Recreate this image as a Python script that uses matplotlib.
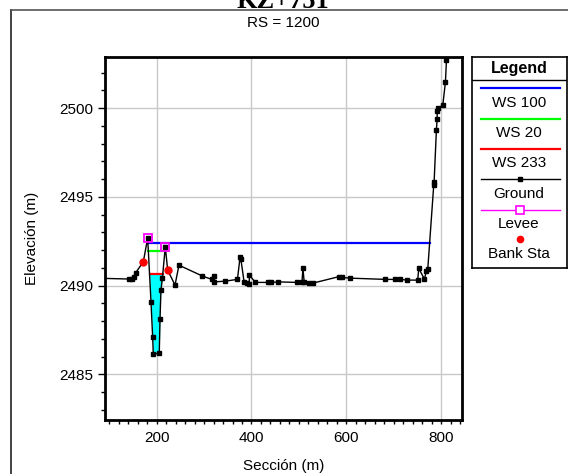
import numpy as np
import matplotlib
matplotlib.use("Agg")
import matplotlib.pyplot as plt
from matplotlib.lines import Line2D
from matplotlib.ticker import MultipleLocator, FormatStrFormatter

plt.rcParams['font.family'] = ['Liberation Sans', 'DejaVu Sans']

# Ground profile: station (m) and elevation (m)
ground_x = [70.0, 142.1, 148.4, 152.7, 155.6, 171.8, 181.0, 188.0, 191.5, 192.9,
            205.5, 207.0, 209.0, 212.0, 218.2, 223.2, 238.7, 247.0, 296.4, 316.2,
            321.7, 321.7, 344.3, 370.3, 376.0, 377.5, 384.4, 390.2, 395.0, 395.7,
            408.3, 435.8, 440.9, 456.9, 495.8, 506.4, 508.5, 511.2, 520.3, 529.6,
            583.7, 590.9, 608.4, 682.4, 703.5, 714.0, 728.2, 750.6, 752.8, 764.7,
            769.0, 771.8, 784.4, 785.2, 790.0, 791.6, 791.6, 793.7, 803.5, 809.1,
            811.2]
ground_z = [2490.42, 2490.37, 2490.37, 2490.50, 2490.72, 2491.34, 2492.68, 2489.09, 2487.12, 2486.12,
            2486.21, 2488.10, 2489.75, 2490.41, 2492.19, 2490.87, 2490.03, 2491.15, 2490.54, 2490.35,
            2490.54, 2490.21, 2490.25, 2490.35, 2491.62, 2491.50, 2490.21, 2490.12, 2490.07, 2490.59,
            2490.18, 2490.18, 2490.18, 2490.21, 2490.18, 2490.18, 2490.97, 2490.18, 2490.14, 2490.14,
            2490.50, 2490.46, 2490.42, 2490.35, 2490.35, 2490.35, 2490.31, 2490.31, 2490.97, 2490.37,
            2490.82, 2490.93, 2495.66, 2495.85, 2498.76, 2499.38, 2499.83, 2499.98, 2500.17, 2501.48,
            2502.70]

# Water surface elevations by profile
ws_names = ["WS 100", "WS 20", "WS 233"]
ws_levels = [2492.42, 2491.93, 2490.63]
ws_colors = ["#0000ff", "#00ff00", "#ff0000"]

# Levees and bank stations
levee_x = [181.0, 218.2]
levee_z = [2492.68, 2492.19]
bank_x = [171.8, 223.2]
bank_z = [2491.34, 2490.87]

gx = np.array(ground_x)
gz = np.array(ground_z)


def ws_extent(level):
    """Stations where a water level meets the ground on each side of the thalweg."""
    i0 = int(np.argmin(gz))
    i = i0
    while gz[i - 1] < level:
        i -= 1
    xl = np.interp(level, [gz[i], gz[i - 1]], [gx[i], gx[i - 1]])
    j = i0
    while gz[j + 1] < level:
        j += 1
    xr = np.interp(level, [gz[j], gz[j + 1]], [gx[j], gx[j + 1]])
    return xl, xr


W, H = 568, 474
FS = 11
fig = plt.figure(figsize=(W / 100, H / 100), dpi=100)


def fx(px):
    return px / W


def fy(py):
    return 1 - py / H


# outer frame of the page
fig.add_artist(Line2D([fx(11), fx(11)], [fy(10), 0], color="#222222", lw=1.2))
fig.add_artist(Line2D([fx(11), 1], [fy(10), fy(10)], color="#555555", lw=1.2))

fig.text(fx(283), fy(8), "KZ+751", ha="center", va="baseline", fontsize=19,
         fontweight="bold", family=["Liberation Serif", "DejaVu Serif"])
fig.text(fx(283), fy(23), "RS = 1200", ha="center", va="center", fontsize=FS)

ax = fig.add_axes([fx(105), fy(420), (462 - 105) / W, (420 - 57.3) / H])
ax.set_xlim(91, 844)
ax.set_ylim(2482.43, 2502.86)

# channel flow area below the lowest profile
wl = ws_levels[2]
chan = (gx > levee_x[0]) & (gx < levee_x[1]) & (gz < wl)
ax.fill_between(gx, gz, wl, where=chan, interpolate=True, color="#00ffff",
                linewidth=0, zorder=2)

for lvl, col in zip(ws_levels, ws_colors):
    xl, xr = ws_extent(lvl)
    ax.plot([xl, xr], [lvl, lvl], color=col, lw=1.6, zorder=3)

ax.plot(gx, gz, color="black", lw=1.0, marker="s", ms=3.2, zorder=4)
ax.plot(levee_x, levee_z, ls="none", marker="s", ms=5.5, mfc="none",
        mec="#ff00ff", mew=1.3, zorder=5)
ax.plot(bank_x, bank_z, ls="none", marker="o", ms=5, color="#ff0000", zorder=6)

ax.xaxis.set_major_locator(MultipleLocator(200))
ax.xaxis.set_minor_locator(MultipleLocator(20))
ax.yaxis.set_major_locator(MultipleLocator(5))
ax.yaxis.set_minor_locator(MultipleLocator(1))
ax.grid(True, which="major", color="#c8c8c8", lw=1.0, zorder=0)
ax.set_axisbelow(True)
ax.tick_params(which="major", length=5, width=1, labelsize=FS, direction="out")
ax.tick_params(which="minor", length=3, width=1, direction="out")
ax.tick_params(axis="x", which="major", length=3, pad=5)
for s in ax.spines.values():
    s.set_linewidth(2)
ax.yaxis.set_major_formatter(FormatStrFormatter("%d"))

fig.text(fx(283.5), fy(466), "Sección (m)", ha="center", va="center", fontsize=FS)
fig.text(fx(32), fy(238), "Elevación (m)", ha="center", va="center",
         rotation=90, fontsize=FS)

# legend panel drawn in pixel units
lg = fig.add_axes([fx(471.7), fy(268), (566.7 - 471.7) / W, (268 - 57.3) / H])
lg.set_xlim(471.7, 566.7)
lg.set_ylim(268, 57.3)
lg.set_xticks([])
lg.set_yticks([])
for s in lg.spines.values():
    s.set_linewidth(1.2)
lg.text(519, 68, "Legend", ha="center", va="center", fontsize=11.5, fontweight="bold")
lg.plot([471.7, 566.7], [79.5, 79.5], color="black", lw=1)

item_line_y = [87.7, 119, 148.7]
item_text_y = [102.7, 132.7, 163]
for name, col, ly, ty in zip(ws_names, ws_colors, item_line_y, item_text_y):
    lg.plot([481, 560], [ly, ly], color=col, lw=1.6)
    lg.text(519, ty, name, ha="center", va="center", fontsize=FS)
lg.plot([481, 560], [179, 179], color="black", lw=1)
lg.plot([520], [179], marker="s", ms=3.2, color="black")
lg.text(519, 194, "Ground", ha="center", va="center", fontsize=FS)
lg.plot([481, 560], [210, 210], color="#ff00ff", lw=1)
lg.plot([520], [210], marker="s", ms=5.5, mfc="white", mec="#ff00ff", mew=1.2)
lg.text(519, 223.5, "Levee", ha="center", va="center", fontsize=FS)
lg.plot([519.5], [239], marker="o", ms=4.5, color="#ff0000")
lg.text(519, 253.5, "Bank Sta", ha="center", va="center", fontsize=FS)

fig.savefig("out.png", dpi=100)
